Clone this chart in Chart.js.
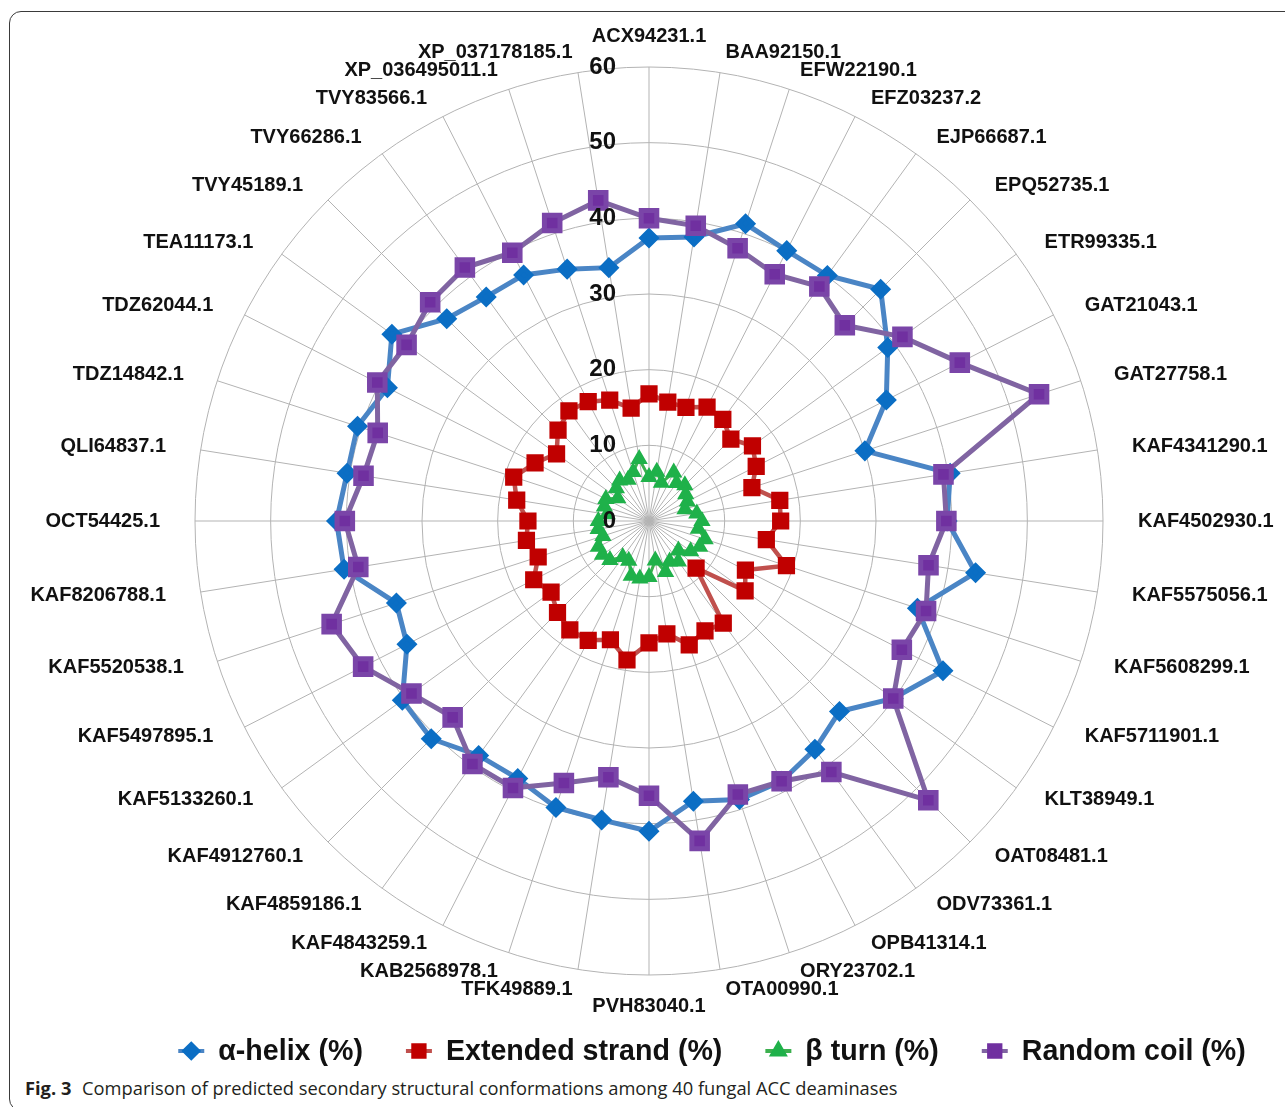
<!DOCTYPE html>
<html>
<head>
<meta charset="utf-8">
<script src="https://cdn.jsdelivr.net/npm/chart.js@4.4.1/dist/chart.umd.min.js"></script>
<style>
  html, body { margin: 0; padding: 0; background: #fff; overflow: hidden; }
  body { width: 1285px; height: 1107px; position: relative; }
  .frame {
    position: absolute; left: 9px; top: 11px; width: 1300px; height: 1100px;
    border: 1.5px solid #3a3a3a; border-radius: 12px; box-sizing: border-box;
  }
  .wrap { position: absolute; left: 0; top: 0; width: 1285px; height: 1075px; }
  .caption {
    position: absolute; left: 25px; top: 1075px; white-space: nowrap;
    font-family: 'Open Sans', sans-serif; font-size: 18.3px; color: #231f20;
  }
  .caption b { margin-right: 6px; }
</style>
</head>
<body>
<div class="frame"></div>
<div class="wrap"><canvas id="radar"></canvas></div>
<div class="caption"><b>Fig. 3</b> Comparison of predicted secondary structural conformations among 40 fungal ACC deaminases</div>
<script>
const categories = [
  'ACX94231.1', 'BAA92150.1', 'EFW22190.1', 'EFZ03237.2', 'EJP66687.1',
  'EPQ52735.1', 'ETR99335.1', 'GAT21043.1', 'GAT27758.1', 'KAF4341290.1',
  'KAF4502930.1', 'KAF5575056.1', 'KAF5608299.1', 'KAF5711901.1', 'KLT38949.1',
  'OAT08481.1', 'ODV73361.1', 'OPB41314.1', 'ORY23702.1', 'OTA00990.1',
  'PVH83040.1', 'TFK49889.1', 'KAB2568978.1', 'KAF4843259.1', 'KAF4859186.1',
  'KAF4912760.1', 'KAF5133260.1', 'KAF5497895.1', 'KAF5520538.1', 'KAF8206788.1',
  'OCT54425.1', 'QLI64837.1', 'TDZ14842.1', 'TDZ62044.1', 'TEA11173.1',
  'TVY45189.1', 'TVY66286.1', 'TVY83566.1', 'XP_036495011.1', 'XP_037178185.1',
];

const alphaHelix = [
  37.4, 38.0, 41.3, 40.1, 40.1, 43.3, 39.0, 35.2, 30.0, 40.3,
  39.4, 43.7, 37.3, 43.6, 39.9, 35.6, 37.3, 38.6, 38.7, 37.5,
  41.0, 40.0, 39.8, 38.2, 38.3, 40.7, 40.3, 35.9, 35.1, 40.8,
  41.3, 40.4, 40.5, 38.8, 42.0, 37.8, 36.6, 36.5, 35.0, 33.9,
];
const extendedStrand = [
  16.8, 15.9, 15.8, 16.9, 16.6, 15.3, 16.9, 15.9, 14.3, 17.5,
  17.4, 15.7, 19.1, 14.3, 15.7, 8.8, 16.7, 16.3, 17.2, 15.1,
  16.1, 18.6, 16.5, 17.7, 17.8, 17.1, 16.0, 17.1, 15.4, 16.4,
  16.0, 17.7, 18.8, 16.9, 15.1, 17.0, 18.0, 17.7, 16.8, 15.1,
];
const betaTurn = [
  5.8, 6.6, 5.3, 7.2, 6.2, 6.7, 6.0, 5.7, 5.0, 6.4,
  7.0, 6.6, 7.8, 7.5, 6.8, 5.5, 6.6, 6.0, 7.1, 5.3,
  7.4, 7.7, 7.6, 5.9, 5.9, 7.3, 7.6, 7.5, 6.4, 6.8,
  6.7, 5.6, 6.2, 6.4, 5.1, 6.1, 6.6, 6.1, 6.8, 8.3,
];
const randomCoil = [
  40.0, 39.5, 37.9, 36.6, 38.3, 36.6, 41.4, 46.1, 54.2, 39.4,
  39.3, 37.4, 38.5, 37.5, 39.9, 52.2, 41.0, 38.6, 38.0, 42.8,
  36.3, 34.3, 36.4, 39.6, 39.7, 36.7, 38.8, 42.4, 44.1, 38.9,
  40.2, 38.2, 37.7, 40.3, 39.6, 40.9, 41.4, 39.8, 41.4, 42.9,
];
const radialTicks = [0, 10, 20, 30, 40, 50, 60];

const labelFont = '"Liberation Sans", Arial, sans-serif';

// category names, radial tick numbers and the legend are drawn here
const decorations = {
  id: 'decorations',
  afterDraw(chart) {
    const r = chart.scales.r;
    const ctx = chart.ctx;
    ctx.save();
    ctx.fillStyle = '#111';
    ctx.textBaseline = 'middle';

    ctx.font = 'bold 20px ' + labelFont;
    categories.forEach((name, i) => {
      const a = (i / categories.length) * Math.PI * 2;
      const s = Math.sin(a);
      const p = r.getPointPosition(i, r.drawingArea + 20);
      let x = p.x + 15 * s;
      let y = p.y;
      if (Math.abs(s) < 1e-6) {
        ctx.textAlign = 'center';
        y -= 11 * Math.cos(a);
      } else {
        ctx.textAlign = s > 0 ? 'left' : 'right';
      }
      ctx.fillText(name, x, y);
    });

    ctx.font = 'bold 24px ' + labelFont;
    ctx.textAlign = 'right';
    radialTicks.forEach((v) => {
      ctx.fillText(String(v), r.xCenter - 33, r.yCenter - r.getDistanceFromCenterForValue(v));
    });

    // legend
    ctx.font = 'bold 28.6px ' + labelFont;
    ctx.textAlign = 'left';
    const sets = chart.data.datasets;
    const markW = 26, textGap = 14, itemGap = 43;
    const widths = sets.map((d) => markW + textGap + ctx.measureText(d.label).width);
    const total = widths.reduce((a, b) => a + b, 0) + itemGap * (sets.length - 1);
    let x = 712 - total / 2;
    const y = 1051;
    sets.forEach((d, i) => {
      ctx.strokeStyle = d.borderColor;
      ctx.lineWidth = 4;
      ctx.beginPath();
      ctx.moveTo(x, y);
      ctx.lineTo(x + markW, y);
      ctx.stroke();
      ctx.fillStyle = d.pointBackgroundColor;
      ctx.strokeStyle = d.pointBackgroundColor;
      Chart.helpers.drawPoint(ctx, {
        pointStyle: d.pointStyle, radius: d.legendRadius, rotation: 0, borderWidth: 1,
      }, x + markW / 2, y);
      ctx.fillStyle = '#111';
      ctx.fillText(d.label, x + markW + textGap, y + 1);
      x += widths[i] + itemGap;
    });
    ctx.restore();
  },
};

new Chart(document.getElementById('radar'), {
  type: 'radar',
  data: {
    labels: categories,
    datasets: [
      {
        label: 'α-helix (%)',
        data: alphaHelix,
        borderColor: '#4a85c5',
        borderWidth: 5,
        pointStyle: 'rectRot',
        pointRadius: 7,
        pointBackgroundColor: '#0b6ec4',
        pointBorderColor: '#0b6ec4',
        legendRadius: 7,
        order: 3,
      },
      {
        label: 'Extended strand (%)',
        data: extendedStrand,
        borderColor: '#c0504d',
        borderWidth: 4.5,
        pointStyle: 'rect',
        pointRadius: 9,
        pointBackgroundColor: '#c00000',
        pointBorderColor: '#c00000',
        legendRadius: 8,
        order: 2,
      },
      {
        label: 'β turn (%)',
        data: betaTurn,
        borderColor: '#3cb04f',
        borderWidth: 3,
        pointStyle: 'triangle',
        pointRadius: 7,
        pointBackgroundColor: '#1fb14a',
        pointBorderColor: '#1fb14a',
        legendRadius: 7,
        order: 1,
      },
      {
        label: 'Random coil (%)',
        data: randomCoil,
        borderColor: '#8064a2',
        borderWidth: 5,
        pointStyle: 'rect',
        pointRadius: 11,
        pointBackgroundColor: '#7030a0',
        pointBorderColor: '#7a45a8',
        legendRadius: 8,
        order: 0,
      },
    ],
  },
  options: {
    responsive: true,
    maintainAspectRatio: false,
    animation: false,
    layout: { padding: { top: 67, bottom: 100, left: 13, right: 0 } },
    elements: {
      line: { tension: 0, fill: false },
      point: { borderWidth: 1, hoverRadius: 8 },
    },
    plugins: {
      legend: { display: false },
      tooltip: { enabled: false },
    },
    scales: {
      r: {
        min: 0,
        max: 60,
        ticks: { stepSize: 10, display: false },
        grid: { circular: true, color: '#b3b3b3', lineWidth: 1 },
        angleLines: { color: '#b3b3b3', lineWidth: 1 },
        pointLabels: { display: false },
      },
    },
  },
  plugins: [decorations],
});
</script>
</body>
</html>
